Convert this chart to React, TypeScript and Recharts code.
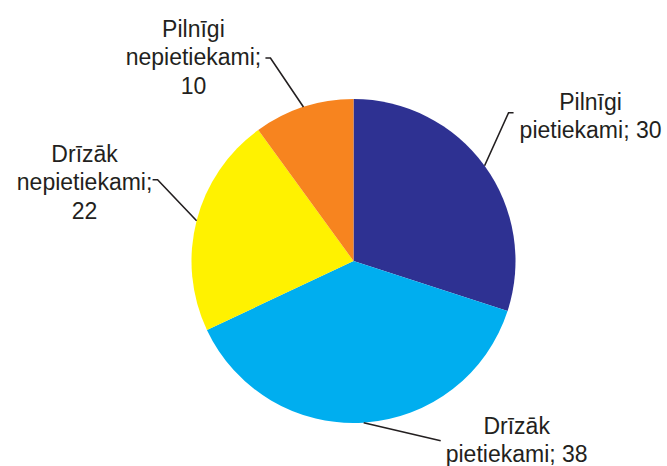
import React from 'react';
import { PieChart, Pie, Cell } from 'recharts';

// Atbilžu kategorijas un to daļa (%)
const categories = ['Pilnīgi pietiekami', 'Drīzāk pietiekami', 'Drīzāk nepietiekami', 'Pilnīgi nepietiekami'];
const values = [30, 38, 22, 10];
const colors = ['#2e3192', '#00aeef', '#fff200', '#f7841f'];

// label placement, offsets from the slice edge point
const labelLayout = [
    { elbow: [24, -53], tick: [29, -53], text: [106, -56], valueLine: false },
    { elbow: [77, 18], tick: null, text: [153, 11], valueLine: false },
    { elbow: [-39, -41], tick: [-44, -41], text: [-112, -59], valueLine: true },
    { elbow: [-33, -49], tick: [-38, -49], text: [-110, -70], valueLine: true },
];

const data = categories.map((name, i) => ({ name, value: values[i] }));

const RAD = Math.PI / 180;
const LINE_H = 28.5;

function renderLabel(props: any) {
    const { cx, cy, midAngle, outerRadius, index, name, value } = props;
    const layout = labelLayout[index];
    const ex = cx + outerRadius * Math.cos(-midAngle * RAD);
    const ey = cy + outerRadius * Math.sin(-midAngle * RAD);
    const pts = [[ex, ey], [ex + layout.elbow[0], ey + layout.elbow[1]]];
    if (layout.tick) pts.push([ex + layout.tick[0], ey + layout.tick[1]]);
    const [w1, w2] = name.split(' ');
    const lines = layout.valueLine ? [w1, `${w2};`, String(value)] : [w1, `${w2}; ${value}`];
    const tx = ex + layout.text[0];
    const ty = ey + layout.text[1];
    return (
        <g key={`label-${index}`}>
            <polyline
                points={pts.map((p) => p.join(',')).join(' ')}
                fill="none"
                stroke="#231f20"
                strokeWidth={1.6}
            />
            <text
                x={tx}
                y={ty}
                textAnchor="middle"
                fill="#231f20"
                fontSize={23}
                fontFamily="'Liberation Sans', Arial, sans-serif"
            >
                {lines.map((line, i) => (
                    <tspan key={i} x={tx} y={ty + i * LINE_H}>
                        {line}
                    </tspan>
                ))}
            </text>
        </g>
    );
}

export default function App() {
    return (
        <div style={{ position: 'absolute', left: 0, top: 0, width: 667, height: 466, background: '#fff' }}>
            <PieChart width={667} height={466} margin={{ top: 0, right: 0, bottom: 0, left: 0 }}>
                <Pie
                    data={data}
                    dataKey="value"
                    nameKey="name"
                    cx={353.5}
                    cy={261}
                    outerRadius={162}
                    startAngle={90}
                    endAngle={-270}
                    stroke="none"
                    label={renderLabel}
                    labelLine={false}
                    isAnimationActive={false}
                >
                    {data.map((entry, i) => (
                        <Cell key={entry.name} fill={colors[i]} />
                    ))}
                </Pie>
            </PieChart>
        </div>
    );
}
